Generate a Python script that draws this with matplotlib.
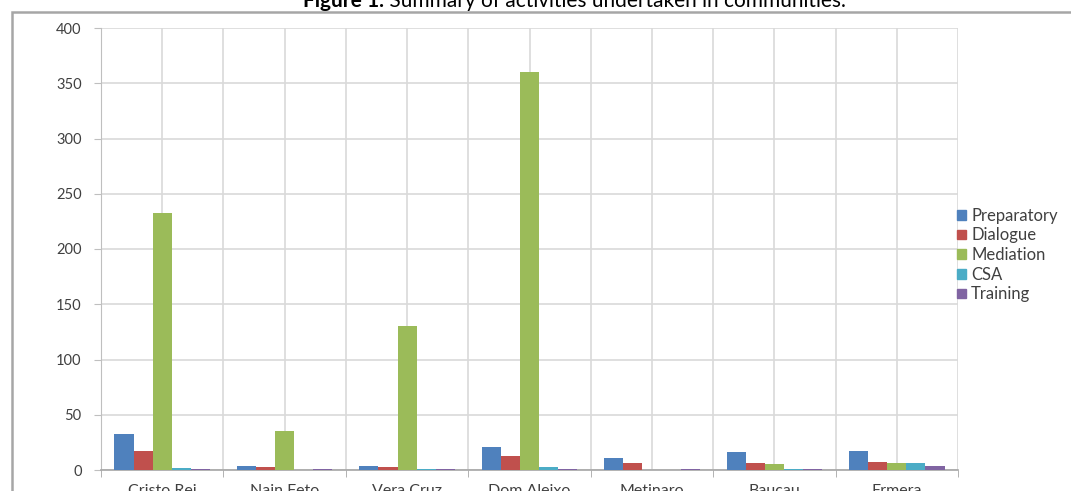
import matplotlib.pyplot as plt
import matplotlib.patches as patches
import numpy as np

plt.rcParams['font.family'] = ['Lato', 'DejaVu Sans']

# Activity counts per community
communities = ['Cristo Rei', 'Nain Feto', 'Vera Cruz', 'Dom Aleixo', 'Metinaro', 'Baucau', 'Ermera']
preparatory = [33, 4, 4, 21, 11, 16, 17]
dialogue = [17, 3, 3, 13, 6, 6, 7]
mediation = [233, 35, 130, 360, 0, 5, 6]
csa = [2, 0, 1, 3, 0, 1, 6]
training = [1, 1, 1, 1, 1, 1, 4]

series = [
    ('Preparatory', preparatory, '#4F81BD'),
    ('Dialogue', dialogue, '#C0504D'),
    ('Mediation', mediation, '#9BBB59'),
    ('CSA', csa, '#4BACC6'),
    ('Training', training, '#8064A2'),
]

W, H = 1071, 491
fig = plt.figure(figsize=(W / 100, H / 100), dpi=100)
ax = fig.add_axes([101 / W, 1 - 470 / H, (958 - 101) / W, (470 - 28) / H])

# chart frame
frame = patches.Rectangle((12 / W, -0.1), 1.2, 1 - 12 / H + 0.1, transform=fig.transFigure,
                          fill=False, edgecolor='#a6a6a6', linewidth=1.8, clip_on=False)
fig.add_artist(frame)

x = np.arange(len(communities))
group = 0.78
bw = group / len(series)
for i, (name, vals, color) in enumerate(series):
    offs = -group / 2 + bw * (i + 0.5)
    ax.bar(x + offs, vals, bw, color=color, label=name, zorder=3, linewidth=0)

ax.set_xlim(-0.5, len(communities) - 0.5)
ax.set_ylim(0, 400)
ax.set_yticks(np.arange(0, 401, 50))
ax.set_xticks(x)
ax.set_xticklabels(communities)
ax.set_xticks(np.arange(-0.5, len(communities), 1), minor=True)

grid_col = '#d9d9d9'
ax.grid(axis='y', color=grid_col, linewidth=1.2, zorder=0)
for gx in np.arange(-0.5, len(communities) - 0.4, 0.5):
    ax.axvline(gx, color=grid_col, linewidth=1.2, zorder=0)

for s in ['top', 'right']:
    ax.spines[s].set_visible(False)
ax.spines['left'].set_color('#bfbfbf')
ax.spines['bottom'].set_color('#a6a6a6')
ax.spines['bottom'].set_linewidth(1.2)

ax.tick_params(axis='y', length=5, color='#bfbfbf', labelsize=10.5, labelcolor='#404040', pad=9)
ax.tick_params(axis='x', which='major', length=0, labelsize=11.5, labelcolor='#404040', pad=10)
ax.tick_params(axis='x', which='minor', length=5, color='#a6a6a6')

fig.legend(handles=[patches.Patch(color=c, label=n) for n, _, c in series],
           loc='center left', bbox_to_anchor=(957 / W, 1 - 255 / H), frameon=False,
           fontsize=12, labelcolor='#404040', handlelength=0.55, handleheight=0.5,
           handletextpad=0.3, labelspacing=0.22, borderaxespad=0, borderpad=0)

# caption, partly above the top edge
ty = 1 - 7 / H
bold = fig.text(303 / W, ty, 'Figure 1.', ha='left', va='baseline', fontsize=15,
                fontweight='bold')
fig.canvas.draw()
bb = bold.get_window_extent()
fig.text(bb.x1 / W, ty, ' Summary of activities undertaken in communities.',
         ha='left', va='baseline', fontsize=15)

fig.savefig('out.png', dpi=100)
